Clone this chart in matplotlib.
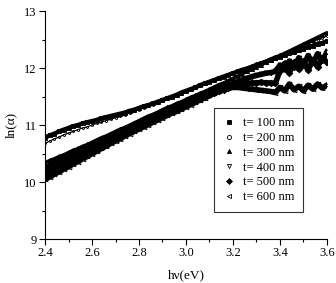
import numpy as np
import matplotlib
matplotlib.use("Agg")
import matplotlib.pyplot as plt
from matplotlib.lines import Line2D

plt.rcParams['font.family'] = ['Liberation Serif', 'DejaVu Serif']
plt.rcParams['mathtext.fontset'] = 'stix'

hv = [round(2.40 + 0.02 * i, 2) for i in range(61)]

labels = ["t= 100 nm", "t= 200 nm", "t= 300 nm", "t= 400 nm", "t= 500 nm", "t= 600 nm"]

s100 = [10.78, 10.82, 10.85, 10.89, 10.92, 10.95, 10.98, 11.00, 11.03, 11.05,
        11.07, 11.09, 11.12, 11.14, 11.16, 11.18, 11.20, 11.22, 11.25, 11.27,
        11.30, 11.33, 11.35, 11.38, 11.41, 11.44, 11.47, 11.50, 11.53, 11.57,
        11.60, 11.63, 11.66, 11.70, 11.73, 11.76, 11.79, 11.82, 11.85, 11.88,
        11.91, 11.94, 11.97, 11.99, 12.02, 12.05, 12.08, 12.11, 12.14, 12.17,
        12.20, 12.23, 12.26, 12.28, 12.31, 12.34, 12.37, 12.39, 12.42, 12.44,
        12.47]
s200 = [10.68, 10.72, 10.76, 10.79, 10.83, 10.86, 10.89, 10.92, 10.95, 10.97,
        11.00, 11.03, 11.05, 11.08, 11.10, 11.13, 11.16, 11.18, 11.21, 11.24,
        11.27, 11.30, 11.33, 11.36, 11.39, 11.42, 11.45, 11.48, 11.51, 11.55,
        11.58, 11.61, 11.65, 11.68, 11.72, 11.75, 11.78, 11.82, 11.85, 11.89,
        11.92, 11.95, 11.98, 12.02, 12.05, 12.08, 12.11, 12.14, 12.18, 12.21,
        12.24, 12.27, 12.30, 12.34, 12.37, 12.40, 12.43, 12.46, 12.50, 12.53,
        12.56]
s300 = [10.34, 10.38, 10.41, 10.45, 10.48, 10.52, 10.56, 10.59, 10.63, 10.66,
        10.70, 10.74, 10.78, 10.81, 10.85, 10.89, 10.93, 10.96, 11.00, 11.04,
        11.08, 11.12, 11.16, 11.19, 11.23, 11.27, 11.31, 11.34, 11.38, 11.41,
        11.45, 11.49, 11.52, 11.56, 11.59, 11.63, 11.67, 11.71, 11.74, 11.78,
        11.82, 11.86, 11.90, 11.94, 11.98, 12.02, 12.06, 12.10, 12.14, 12.18,
        12.22, 12.26, 12.30, 12.34, 12.38, 12.42, 12.46, 12.50, 12.54, 12.58,
        12.62]
s400 = [10.25, 10.29, 10.33, 10.37, 10.41, 10.45, 10.49, 10.53, 10.57, 10.60,
        10.64, 10.68, 10.72, 10.76, 10.80, 10.84, 10.88, 10.91, 10.95, 10.99,
        11.03, 11.07, 11.10, 11.14, 11.18, 11.22, 11.25, 11.29, 11.33, 11.36,
        11.40, 11.43, 11.47, 11.50, 11.54, 11.57, 11.60, 11.64, 11.67, 11.70,
        11.73, 11.76, 11.79, 11.82, 11.85, 11.87, 11.89, 11.91, 11.92, 11.94,
        12.05, 11.97, 12.12, 12.00, 12.18, 12.04, 12.22, 12.08, 12.25, 12.12,
        12.28]
s500 = [10.15, 10.19, 10.23, 10.28, 10.32, 10.36, 10.40, 10.45, 10.49, 10.53,
        10.57, 10.61, 10.66, 10.70, 10.74, 10.78, 10.82, 10.86, 10.90, 10.94,
        10.98, 11.02, 11.06, 11.10, 11.14, 11.18, 11.21, 11.25, 11.28, 11.32,
        11.35, 11.39, 11.42, 11.46, 11.49, 11.53, 11.56, 11.59, 11.62, 11.65,
        11.68, 11.70, 11.72, 11.73, 11.74, 11.74, 11.75, 11.74, 11.74, 11.73,
        11.95, 12.08, 11.92, 12.10, 11.98, 12.12, 11.96, 12.15, 12.02, 12.18,
        12.10]
s600 = [10.05, 10.09, 10.14, 10.18, 10.23, 10.27, 10.32, 10.36, 10.41, 10.45,
        10.50, 10.54, 10.59, 10.63, 10.68, 10.72, 10.76, 10.81, 10.85, 10.89,
        10.93, 10.97, 11.01, 11.05, 11.09, 11.13, 11.17, 11.21, 11.24, 11.28,
        11.32, 11.36, 11.40, 11.44, 11.48, 11.52, 11.56, 11.60, 11.63, 11.65,
        11.66, 11.66, 11.65, 11.64, 11.63, 11.62, 11.61, 11.60, 11.59, 11.57,
        11.66, 11.60, 11.72, 11.62, 11.68, 11.60, 11.70, 11.63, 11.72, 11.65,
        11.70]

series = [s100, s200, s300, s400, s500, s600]
markers = ['s', 'o', '^', 'v', 'D', '<']
fills = ['k', 'none', 'k', 'none', 'k', 'none']
line_w = [3.2, 0.9, 2.4, 4.0, 4.0, 4.0]
mk_size = [3.2, 1.5, 3.0, 3.4, 3.4, 3.4]

fig = plt.figure(figsize=(3.36, 2.83), dpi=100)
ax = fig.add_axes([0.134, 0.155, 0.839, 0.806])

for y, m, fc, lw, ms in zip(series, markers, fills, line_w, mk_size):
    ax.plot(hv, y, '-', color='k', lw=lw, marker=m, ms=ms, mfc=fc, mec='k', mew=0.6)

ax.set_xlim(2.4, 3.6)
ax.set_ylim(9, 13)
ax.set_xticks([2.4, 2.6, 2.8, 3.0, 3.2, 3.4, 3.6])
ax.set_xticks([2.5, 2.7, 2.9, 3.1, 3.3, 3.5], minor=True)
ax.set_yticks([9, 10, 11, 12, 13])
ax.set_yticks([9.5, 10.5, 11.5, 12.5], minor=True)
ax.xaxis.set_major_formatter(matplotlib.ticker.FormatStrFormatter('%.1f'))
ax.tick_params(which='major', direction='out', length=4, width=0.8, labelsize=9, pad=2)
ax.tick_params(which='minor', direction='out', length=2.5, width=0.8)
ax.spines['top'].set_visible(False)
ax.spines['right'].set_visible(False)
for s in ['left', 'bottom']:
    ax.spines[s].set_linewidth(0.8)

ax.set_xlabel('hν(eV)', fontsize=9.5, labelpad=7)
ax.set_ylabel('ln(α)', fontsize=9.5, labelpad=5)

handles = [Line2D([], [], ls='none', marker=m, ms=3.0, mfc=fc, mec='k', mew=0.6, color='k')
           for m, fc in zip(markers, fills)]
leg = ax.legend(handles, labels, loc='upper left', bbox_to_anchor=(0.599, 0.575, 0.316, 0.0),
                mode='expand', fontsize=9, frameon=True, fancybox=False, borderpad=0.75,
                labelspacing=0.22, handlelength=0.9, handletextpad=0.7, borderaxespad=0)
leg.get_frame().set_edgecolor('k')
leg.get_frame().set_linewidth(0.8)

fig.savefig('out.png', dpi=100)
